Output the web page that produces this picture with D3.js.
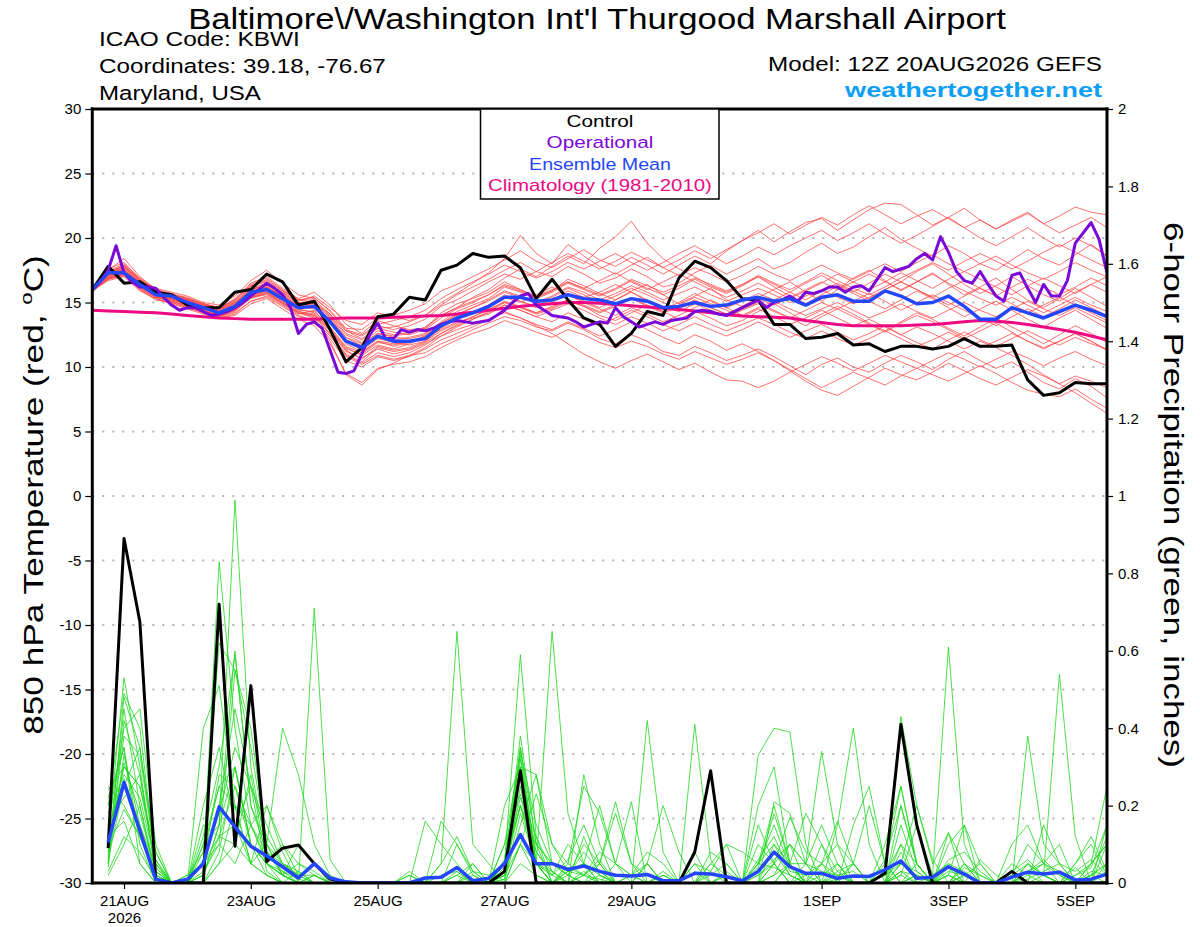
<!DOCTYPE html>
<html>
<head>
<meta charset="utf-8">
<script src="https://cdn.jsdelivr.net/npm/d3@7"></script>
<style>
  body { margin: 0; background: #fff; }
  svg { display: block; font-family: "Liberation Sans", Arial, Helvetica, sans-serif; }
</style>
</head>
<body>
<svg id="chart" width="1200" height="927"></svg>
<script>
// GEFS 12Z 20AUG2026 run, 6-hourly steps from 12Z 20AUG to 12Z 5SEP
const runStart = Date.UTC(2026, 7, 20, 12);
const stepHours = 6;
const tickDates = ['2026-08-21', '2026-08-23', '2026-08-25', '2026-08-27', '2026-08-29', '2026-09-01', '2026-09-03', '2026-09-05'];
const tempTicks = [30, 25, 20, 15, 10, 5, 0, -5, -10, -15, -20, -25, -30];
const precipTicks = [0, 0.2, 0.4, 0.6, 0.8, 1, 1.2, 1.4, 1.6, 1.8, 2];

// 850 hPa temperature, C (65 values, 6-hourly)
const controlTemp = [16.0, 17.8, 16.5, 16.6, 15.8, 15.6, 14.8, 14.6, 14.6, 15.8, 16.0, 17.2, 16.6, 14.8, 15.1, 12.9, 10.4,
  11.5, 13.9, 14.1, 15.4, 15.2, 17.5, 17.9, 18.8, 18.5, 18.6, 17.7, 15.3, 16.8, 15.2, 13.8, 13.3,
  11.6, 12.6, 14.3, 14.0, 16.9, 18.2, 17.7, 16.7, 15.3, 15.2, 13.3, 13.3, 12.2, 12.3, 12.6, 11.7,
  11.8, 11.2, 11.6, 11.6, 11.4, 11.6, 12.2, 11.6, 11.6, 11.7, 9.0, 7.8, 8.0, 8.8, 8.7, 8.7];
const meanTemp = [16.0, 17.3, 17.3, 16.4, 15.6, 15.5, 15.0, 14.6, 14.2, 14.7, 15.8, 16.0, 15.3, 14.6, 14.7, 13.5, 12.0,
  11.5, 12.4, 12.0, 12.0, 12.2, 13.2, 13.8, 14.2, 14.7, 15.4, 15.4, 15.1, 15.2, 15.6, 15.3, 15.2,
  14.9, 15.3, 15.1, 14.6, 14.7, 15.0, 14.7, 14.8, 15.2, 15.4, 15.1, 15.3, 14.8, 15.4, 15.6, 15.1,
  15.1, 15.9, 15.5, 14.9, 15.0, 15.5, 14.7, 13.7, 13.7, 14.6, 14.2, 13.8, 14.3, 14.8, 14.4, 13.9];
const climoTemp = [14.4, 14.35, 14.3, 14.25, 14.2, 14.1, 14.0, 13.9, 13.8, 13.75, 13.7, 13.7, 13.7, 13.7, 13.7, 13.75, 13.8,
  13.8, 13.8, 13.85, 13.9, 13.95, 14.0, 14.1, 14.25, 14.4, 14.55, 14.7, 14.8, 14.9, 15.0, 15.0, 14.95,
  14.85, 14.75, 14.65, 14.55, 14.45, 14.35, 14.2, 14.05, 13.95, 13.9, 13.85, 13.8, 13.6, 13.45, 13.3, 13.2,
  13.2, 13.2, 13.2, 13.25, 13.3, 13.4, 13.5, 13.6, 13.55, 13.45, 13.3, 13.1, 12.9, 12.7, 12.4, 12.1];
// operational run is 3-hourly (129 values)
const operTemp = [16.0, 16.6, 17.5, 19.4, 17.3, 16.6, 16.2, 16.2, 16.1, 15.4, 14.8, 14.4, 14.6, 14.6, 14.3, 14.0,
  14.1, 14.3, 14.6, 15.0, 15.5, 16.0, 16.5, 16.1, 15.6, 14.6, 12.6, 13.3, 13.5, 13.0, 11.3, 9.6,
  9.5, 9.7, 11.0, 12.5, 13.4, 12.2, 12.2, 12.9, 12.7, 12.9, 12.8, 13.0, 13.3, 13.5, 13.6, 13.5,
  13.4, 13.5, 13.6, 14.0, 14.4, 15.0, 15.5, 15.7, 14.8, 14.4, 14.0, 13.9, 13.8, 13.5, 13.1, 13.3,
  13.5, 13.4, 14.6, 13.9, 13.5, 13.1, 13.3, 13.5, 13.3, 13.6, 13.7, 13.8, 14.3, 14.4, 14.3, 14.1,
  14.0, 14.3, 14.6, 14.9, 15.2, 14.6, 15.0, 15.2, 15.5, 15.1, 15.8, 15.7, 15.9, 16.2, 16.2, 15.8,
  16.2, 16.3, 15.9, 16.8, 17.7, 17.4, 17.6, 17.8, 18.4, 18.8, 18.3, 20.1, 18.9, 17.4, 16.7, 16.5,
  17.4, 16.4, 15.5, 15.1, 17.1, 17.3, 16.1, 15.0, 16.4, 15.5, 15.5, 16.7, 19.6, 20.4, 21.2, 19.9, 17.3];
const memberTemp = [
  [16.1,17.0,17.8,16.6,15.9, 15.4,15.2,14.8,14.5, 15.0,16.2,16.8,15.9, 15.2,15.0,14.1,12.8, 12.2,13.0,13.1,13.5, 14.0,14.8,15.6,16.2, 16.8,17.5,18.1,17.4, 17.0,17.8,17.2,16.5, 16.9,17.6,17.0,16.2, 16.5,17.3,17.9,17.2, 17.8,18.4,17.6,18.1, 18.9,19.6,18.8,19.3, 20.1,20.8,19.9,19.2, 18.6,19.4,18.8,18.0, 17.5,18.3,19.1,18.4, 17.9,18.7,19.5,18.6],
  [15.9,16.8,17.1,16.0,15.2, 15.0,14.6,14.2,13.9, 14.2,15.1,15.5,14.8, 14.0,13.6,12.4,10.8, 10.2,10.9,10.6,10.9, 11.1,11.8,12.3,12.9, 13.4,13.9,13.6,13.1, 12.8,13.4,12.9,12.2, 11.8,12.5,12.0,11.2, 10.9,11.6,11.1,10.5, 10.9,11.4,10.8,10.1, 9.4,10.2,10.7,10.0, 9.6,10.3,10.9,10.4, 9.8,10.6,11.2,10.5, 9.9,10.4,9.6,8.8, 8.3,9.1,8.5,7.6],
  [16.2,17.5,18.4,17.0,16.0, 15.6,15.3,14.9,14.6, 15.3,16.5,17.0,16.1, 15.3,15.8,14.8,13.3, 12.6,13.6,13.2,12.9, 13.0,14.2,14.9,15.3, 15.8,16.6,16.0,15.4, 15.9,16.8,16.3,15.7, 15.2,15.9,16.4,15.6, 14.9,15.5,16.1,15.2, 14.7,15.4,16.0,16.6, 15.8,15.1,16.0,16.9, 17.5,16.7,15.9,16.6, 17.3,16.4,15.6,16.2, 16.9,16.0,15.2,14.6, 15.3,16.1,15.4,14.7],
  [16.0,17.2,17.6,16.5,15.8, 15.7,15.1,14.7,14.4, 14.9,16.0,16.3,15.5, 14.8,14.9,13.9,12.5, 11.9,12.8,12.5,12.7, 13.1,14.0,14.6,15.4, 16.0,16.9,17.6,17.0, 17.8,18.6,18.0,19.2, 20.1,21.3,19.6,18.4, 17.6,17.0,16.3,15.8, 16.4,17.0,16.2,15.5, 14.9,15.6,16.3,15.7, 15.1,14.5,15.2,15.9, 15.3,14.6,13.9,14.5, 15.1,14.4,13.7,13.1, 13.8,14.4,13.7,13.0],
  [15.8,16.9,17.4,16.3,15.5, 15.2,14.9,14.4,14.0, 14.5,15.5,15.8,15.1, 14.3,14.0,12.6,11.0, 10.4,11.5,11.2,11.4, 11.9,12.6,13.3,13.9, 14.5,15.0,14.6,14.1, 14.5,15.1,14.7,14.0, 13.6,14.2,14.8,14.3, 13.7,14.3,13.8,13.2, 13.6,14.3,14.9,14.2, 13.5,14.1,14.7,14.1, 13.4,12.8,13.5,14.2, 13.7,13.0,12.4,13.1, 13.8,13.1,12.5,11.8, 12.5,13.2,12.6,11.9],
  [16.1,17.4,18.0,16.9,16.1, 15.8,15.5,15.0,14.8, 15.5,16.7,17.5,16.5, 15.6,15.3,14.4,13.0, 12.9,13.8,14.0,14.4, 14.9,15.9,16.4,17.0, 17.6,18.3,19.0,18.2, 17.7,18.4,19.1,18.3, 17.8,18.5,17.9,17.2, 17.9,18.6,18.0,19.0, 19.8,20.6,19.7,20.5, 21.2,21.5,20.6,21.4, 22.2,22.7,22.6,21.8, 21.0,21.6,22.3,21.4, 20.7,21.4,22.0,21.1, 21.7,22.4,22.0,21.8],
  [15.9,16.7,17.0,15.9,15.3, 14.9,14.5,14.1,13.8, 14.0,14.9,15.3,14.5, 13.7,13.2,11.8,9.5, 8.8,9.9,10.2,10.4, 10.8,11.5,12.1,12.6, 13.0,13.6,13.2,12.7, 12.3,12.9,12.5,11.9, 11.5,12.0,11.6,11.0, 10.6,11.2,10.7,10.2, 10.6,11.1,10.5,9.8, 9.1,8.4,9.0,9.6, 9.1,8.6,9.3,9.9, 9.4,8.9,9.5,10.1, 9.5,8.8,8.2,7.9, 7.7,8.3,7.5,6.8],
  [16.0,17.1,17.5,16.6,15.7, 15.5,15.0,14.6,14.3, 14.8,15.8,16.2,15.4, 14.7,14.5,13.4,12.1, 11.3,12.2,11.9,11.7, 12.0,13.0,13.7,14.1, 14.6,15.5,15.1,14.7, 15.2,15.9,15.4,15.8, 16.4,15.8,15.1,14.5, 15.0,15.7,15.1,14.6, 15.1,15.7,15.2,15.8, 16.5,17.1,16.4,15.8, 16.5,17.2,16.6,17.4, 18.0,17.2,16.4,15.7, 16.3,17.0,16.3,15.6, 15.1,15.8,16.4,15.8],
  [16.1,17.2,17.2,16.1,15.4, 15.3,14.8,14.3,13.9, 14.3,15.4,15.6,14.9, 14.1,14.4,13.0,11.5, 10.9,11.7,11.4,11.8, 12.3,12.9,13.5,13.8, 14.1,14.8,14.4,13.9, 13.5,14.2,13.7,13.2, 13.8,14.4,13.9,13.3, 12.8,13.4,12.9,12.4, 12.9,13.5,12.9,12.3, 12.8,13.3,12.7,12.1, 12.6,13.2,12.5,11.9, 11.4,12.1,12.7,12.1, 11.6,12.2,12.8,12.2, 11.7,12.3,11.8,11.4],
  [16.2,17.6,18.1,16.8,16.0, 15.6,15.4,14.9,14.6, 15.1,16.3,16.6,15.8, 15.1,15.5,14.6,13.6, 13.3,14.2,13.9,13.6, 14.0,15.0,15.7,16.5, 17.3,18.4,20.2,18.8, 18.0,19.5,18.6,17.8, 17.2,17.9,18.5,17.7, 17.1,17.7,17.2,16.6, 17.1,17.8,17.2,16.7, 17.3,17.9,17.3,16.8, 17.4,18.0,17.4,18.1, 18.7,18.0,17.4,18.0, 18.6,17.9,17.3,16.8, 17.4,18.1,17.5,17.0],
  [15.9,16.9,17.3,16.2,15.5, 15.1,14.8,14.3,14.1, 14.5,15.5,15.9,15.0, 14.2,13.8,12.0,9.4, 8.6,9.8,10.3,10.9, 11.5,12.4,13.1,13.7, 14.3,15.0,14.6,14.2, 14.7,15.2,14.8,14.3, 14.8,15.3,14.7,14.2, 14.6,15.2,14.6,14.1, 14.5,15.0,14.4,13.8, 13.2,13.9,14.5,13.9, 13.3,12.7,13.4,14.0, 13.5,12.9,12.2,12.8, 13.4,12.7,12.0,11.4, 12.0,12.6,12.0,11.3],
  [16.0,17.3,17.7,16.7,15.9, 15.6,15.2,14.8,14.4, 15.0,16.0,16.4,15.6, 14.9,14.8,13.6,12.0, 11.7,12.6,12.3,12.2, 12.5,13.5,14.3,14.8, 15.3,16.2,15.8,15.3, 15.8,16.5,16.0,15.5, 16.0,16.7,16.1,15.6, 16.1,16.8,16.2,15.7, 16.3,17.0,16.4,15.8, 15.2,15.9,16.5,15.9, 15.3,16.0,16.6,16.0, 15.4,14.8,15.5,16.1, 15.5,14.9,14.2,14.8, 15.4,14.8,14.2,13.6],
  [16.0,16.9,17.1,16.0,15.3, 15.0,14.6,14.2,13.8, 14.1,15.1,15.4,14.7, 13.9,13.6,12.2,10.5, 10.0,10.8,10.5,10.8, 11.4,12.1,12.6,13.1, 13.7,14.3,13.8,13.3, 12.9,13.5,13.0,12.4, 12.9,13.5,12.9,12.3, 11.8,12.5,12.0,11.3, 11.8,11.2,10.5,9.7, 8.9,8.2,7.8,8.5, 9.2,9.9,9.4,9.0, 9.6,10.3,9.7,9.1, 8.6,9.2,9.8,9.3, 8.7,9.3,8.9,8.4],
  [16.1,17.3,17.9,16.8,15.9, 15.5,15.2,14.8,14.5, 15.2,16.4,16.9,16.0, 15.2,15.4,14.3,12.9, 12.5,13.3,13.6,13.9, 14.4,15.3,16.0,16.6, 17.2,17.9,17.4,16.9, 17.4,18.1,17.6,18.2, 18.8,18.1,17.5,18.1, 18.8,19.4,18.7,18.0, 18.6,19.3,18.7,19.4, 20.0,20.6,19.8,20.4, 21.1,20.3,19.6,20.2, 20.9,21.6,20.8,20.0, 19.4,20.1,20.8,20.0, 19.3,20.0,19.4,18.6],
  [15.9,16.8,17.3,16.3,15.6, 15.3,14.9,14.5,14.2, 14.6,15.6,16.0,15.2, 14.5,14.2,12.9,11.4, 11.0,11.9,11.7,12.0, 12.4,13.3,13.9,14.3, 14.8,15.6,15.1,14.6, 15.0,15.6,15.1,14.6, 15.2,15.8,15.2,14.7, 14.3,14.9,14.4,13.9, 14.4,14.9,14.3,13.8, 14.4,15.0,14.5,15.1, 15.7,15.1,14.4,15.0, 15.6,15.0,14.4,13.8, 13.2,13.9,14.5,13.9, 14.5,15.2,14.6,14.0],
  [16.0,17.0,17.4,16.4,15.6, 15.2,14.9,14.4,14.0, 14.4,15.3,15.7,14.9, 14.2,14.0,12.8,11.2, 10.7,11.4,11.0,11.3, 11.8,12.4,12.9,13.3, 13.7,14.2,13.8,13.2, 12.6,11.8,11.0,10.4, 9.9,10.5,11.0,10.4, 9.8,10.3,9.6,9.0, 8.9,8.4,8.9,9.6, 10.2,10.8,10.3,9.7, 10.3,10.9,10.4,9.9, 10.5,11.1,10.6,10.0, 10.6,11.2,10.7,10.1, 10.7,11.2,10.6,10.1],
  [16.1,17.2,17.9,16.7,15.8, 15.6,15.3,14.9,14.5, 15.0,16.1,16.5,15.7, 15.0,15.0,14.0,12.6, 12.1,13.0,12.7,12.5, 12.9,13.8,14.5,15.0, 15.6,16.4,16.0,15.5, 16.0,16.6,16.1,16.7, 17.3,16.6,16.0,16.6, 17.2,16.6,16.0,15.4, 15.9,16.5,15.9,15.3, 15.9,16.5,17.2,16.6, 16.0,16.6,17.3,16.7, 16.1,16.8,17.4,16.8, 16.2,15.6,16.3,16.9, 16.3,15.7,16.4,17.0],
  [15.9,16.8,17.2,16.2,15.4, 15.1,14.7,14.3,14.0, 14.4,15.4,15.7,15.0, 14.3,14.1,12.9,11.3, 10.6,11.6,11.3,11.5, 12.0,12.8,13.4,13.9, 14.4,15.1,14.7,14.2, 14.6,15.2,14.7,14.2, 14.7,15.3,14.8,14.3, 14.8,15.4,14.9,14.4, 13.9,14.5,13.9,13.3, 13.8,14.4,13.8,13.2, 13.7,13.1,12.5,13.1, 12.6,12.0,11.4,12.0, 11.5,10.9,10.2,9.4, 8.7,8.0,7.2,6.4],
  [16.0,17.1,17.6,16.5,15.7, 15.4,15.1,14.6,14.2, 14.7,15.8,16.2,15.4, 14.6,14.7,13.7,12.3, 11.6,12.4,12.1,12.3, 12.6,13.4,14.0,14.6, 15.2,15.9,15.5,15.0, 15.5,16.2,15.8,15.2, 15.7,16.3,15.8,15.2, 15.7,16.2,15.6,15.1, 15.6,16.1,15.6,15.0, 15.5,16.0,15.4,14.9, 15.4,16.0,16.6,16.0, 15.4,16.1,16.7,16.1, 15.5,16.2,16.8,16.2, 15.6,16.2,16.9,16.3],
  [16.2,17.4,17.8,16.8,16.0, 15.7,15.3,14.9,14.6, 15.2,16.3,16.7,15.9, 15.2,15.2,14.1,12.8, 12.4,13.2,12.9,13.2, 13.7,14.7,15.2,15.9, 16.6,17.2,16.8,17.4, 18.1,18.8,18.2,17.6, 18.2,18.9,18.3,17.7, 18.3,19.0,18.4,19.1, 19.8,20.4,21.1,20.3, 21.0,21.6,21.0,21.8, 22.5,21.8,21.1,21.7, 22.2,21.5,20.8,21.4, 20.7,21.3,21.9,21.1, 20.4,21.0,21.6,20.8],
  [15.9,16.9,17.2,16.1,15.4, 15.1,14.7,14.3,13.9, 14.4,15.4,15.8,15.0, 14.2,13.9,12.5,10.9, 10.3,11.1,10.8,11.1, 11.7,12.6,13.2,13.7, 14.2,14.8,14.4,13.9, 14.4,14.9,14.4,13.8, 13.3,13.9,13.4,12.8, 13.3,13.9,13.3,12.8, 13.3,13.8,13.3,12.7, 12.2,12.8,12.2,11.7, 12.2,12.8,12.2,11.6, 12.1,12.7,12.1,11.5, 12.0,12.6,12.0,11.5, 12.0,12.6,12.0,11.3],
  [16.1,17.2,17.5,16.5,15.7, 15.4,15.0,14.5,14.2, 14.8,15.9,16.2,15.5, 14.8,14.7,13.5,11.8, 11.2,12.0,11.8,11.9, 12.4,13.4,14.1,14.6, 15.1,15.8,15.4,14.9, 15.4,16.1,15.6,15.0, 15.5,16.1,15.6,15.0, 14.5,15.1,14.6,14.1, 14.7,15.3,14.8,15.4, 16.0,16.6,16.0,16.6, 17.2,16.6,16.0,16.6, 17.2,16.5,15.9,15.3, 14.8,15.4,14.8,14.2, 14.8,15.4,14.8,14.3],
  [16.0,17.0,17.4,16.3,15.6, 15.3,15.0,14.5,14.1, 14.6,15.6,15.9,15.2, 14.4,14.3,13.1,11.6, 11.1,12.0,11.6,11.9, 12.2,13.1,13.8,14.2, 14.7,15.4,15.0,15.6, 16.2,15.6,15.0,14.5, 14.0,14.6,14.1,13.5, 14.0,14.6,15.2,14.6, 14.0,14.6,15.1,14.5, 14.0,14.5,15.0,14.4, 13.8,14.3,14.9,14.3, 13.8,14.4,15.0,14.4, 13.9,14.5,15.1,14.5, 14.0,14.6,14.0,13.4],
  [16.2,17.3,17.7,16.6,15.8, 15.5,15.2,14.7,14.3, 14.9,16.0,16.4,15.7, 15.0,14.9,13.8,12.3, 11.8,12.6,12.4,12.6, 13.0,14.0,14.6,15.1, 15.6,16.3,15.9,15.4, 15.9,16.6,16.1,15.6, 16.1,16.8,16.3,15.8, 16.3,16.9,16.4,15.9, 16.4,17.1,16.5,16.0, 16.6,17.3,16.7,16.1, 15.6,16.2,16.9,17.5, 18.1,17.5,18.2,18.8, 18.2,17.6,18.2,18.9, 19.5,18.9,18.3,17.7]
];

// 6-hour precipitation, inches (64 values, first one ends 18Z 20AUG)
const controlPrecip = [0.09,0.89,0.675,0.01, 0,0,0,0.72, 0.095,0.51,0.055,0.09, 0.098,0.05,0.01,0, 0,0,0,0, 0,0,0,0,
  0,0.03,0.29,0, 0,0,0,0, 0,0,0,0, 0,0.08,0.29,0, 0,0,0,0, 0,0,0,0, 0,0.025,0.41,0.15, 0,0,0,0, 0,0.03,0,0, 0,0,0,0];
const meanPrecip = [0.105,0.26,0.135,0.01, 0,0.01,0.05,0.197, 0.145,0.095,0.07,0.042, 0.013,0.05,0.013,0.003, 0,0,0,0,
  0.013,0.015,0.04,0.006, 0.012,0.05,0.125,0.05, 0.05,0.035,0.044,0.03, 0.02,0.018,0.022,0.006, 0.006,0.025,0.023,0.016,
  0.006,0.03,0.08,0.042, 0.025,0.025,0.012,0.018, 0.017,0.034,0.057,0.012, 0.015,0.042,0.023,0, 0,0.015,0.028,0.023,
  0.028,0.008,0.01,0.023];
const memberPrecip = [
  [.12,.53,.30,.02, 0,0,.05,.83, .40,.15,.05,.02, 0,0,0,0, 0,0,0,0, 0,.05,.12,.03, 0,.02,.35,.10, .05,.02,0,0, 0,0,.05,.20, .08,0,0,.03, 0,0,.02,.05, 0,0,.15,.40, .10,0,0,.02, 0,0,0,.06, .02,0,0,0, 0,0,.02,.05],
  [.08,.45,.20,.01, 0,0,.02,.15, .99,.30,.08,.03, .01,0,0,0, 0,0,0,0, 0,0,.03,0, 0,.05,.20,.08, .03,0,.02,.06, 0,0,0,.02, 0,.41,.06,0, 0,0,0,.05, .18,.10,.03,0, 0,.06,.20,.05, 0,.02,0,0, 0,0,.03,.06, .02,0,0,0],
  [.20,.49,.40,.05, 0,0,.12,.30, .59,.20,.10,.05, .02,.05,0,0, 0,0,0,0, 0,.16,.10,.02, 0,.05,.59,.12, 0,.03,.05,.02, 0,.02,.08,.05, 0,0,0,0, 0,0,.02,.10, .05,0,0,0, 0,.03,.43,.20, .06,0,0,0, 0,0,.03,.02, 0,.05,.10,.02],
  [.15,.40,.45,.10, 0,0,.40,.51, .20,.05,.02,0, 0,.02,0,0, 0,0,0,0, 0,.05,.65,.10, .05,0,.10,.23, .10,.03,.05,.20, .05,.02,0,0, 0,.05,.03,0, 0,0,0,0, .02,.05,.10,.05, .20,.05,0,0, 0,0,.05,.02, 0,0,.38,.10, .05,0,0,.03],
  [.05,.33,.15,.02, 0,0,.03,.10, .55,.40,.10,.02, 0,.71,.06,0, 0,0,0,0, 0,0,0,.02, 0,.03,.20,.05, .65,.18,.05,0, 0,0,0,.03, 0,0,.05,.10, 0,.05,.20,.05, 0,0,0,.05, 0,0,.02,.15, .02,.61,.10,0, 0,0,0,0, 0,.02,.05,.10],
  [.18,.28,.22,.05, 0,0,.10,.25, .30,.10,.05,.03, 0,0,0,0, 0,0,0,0, .16,.10,.05,0, 0,.10,.33,.05, .02,0,.28,.10, 0,0,.42,.08, 0,0,0,.02, 0,.33,.40,.39, .10,0,0,0, 0,0,.05,.03, 0,0,0,0, 0,.03,.06,.02, .54,.12,0,0],
  [.10,.31,.18,.03, 0,.02,.05,.20, .15,.25,.12,.05, .02,0,0,0, 0,0,0,.03, 0,0,.10,.03, .02,.05,.30,.28, .10,.05,.02,0, .05,.21,0,0, 0,0,0,0, 0,0,.21,.18, .05,.34,.10,0, 0,0,0,.05, 0,.02,0,0, 0,.10,.15,.05, 0,0,.05,.25],
  [.22,.35,.10,0, 0,0,.15,.12, .10,.28,.05,.02, 0,0,0,0, 0,0,0,0, 0,0,0,0, 0,.02,.35,.05, 0,.05,.25,.18, .05,.02,0,0, 0,0,0,0, 0,.10,.05,.17, .08,.05,.16,.05, 0,0,.20,.05, 0,.13,.05,0, 0,0,0,.15, .05,0,0,.05],
  [.06,.25,.35,.08, 0,0,0,.05, .20,.05,.10,.40, .28,.10,.02,0, 0,0,0,0, 0,0,0,0, 0,.20,.30,.05, .03,0,0,.05, .18,.05,.02,0, 0,0,.08,.05, 0,0,.10,.05, 0,.05,0,.15, .25,.05,0,0, 0,.10,.15,.05, 0,0,.05,0, 0,.05,.12,.03],
  [.25,.20,.12,.02, 0,0,.20,.35, .15,.10,.05,.02, 0,0,0,0, 0,0,0,0, 0,.02,.03,0, 0,.03,.32,.05, .02,.10,.05,0, 0,0,.05,0, 0,0,.05,.02, 0,.15,.05,0, .05,.15,.05,0, 0,.05,.25,.05, 0,.02,.15,0, 0,.05,.02,0, 0,0,0,.15],
  [.04,.42,.28,.03, 0,.02,.08,.62, .55,.35,.10,.02, .05,.03,0,0, 0,0,0,0, 0,0,0,0, 0,.01,.15,.28, .05,.02,0,0, 0,0,0,0, 0,0,.03,.10, .08,.05,.15,.04, 0,.10,0,0, 0,.02,.05,.20, .05,.13,0,0, 0,0,0,0, 0,0,.03,.02],
  [.10,.30,.25,.05, 0,0,.05,.10, .05,.15,.20,.10, .05,.02,0,0, 0,0,0,0, 0,0,.02,.05, 0,.05,.20,.10, .05,.02,.10,.05, 0,0,0,0, 0,.05,0,0, 0,0,.05,.10, .05,0,0,0, 0,0,.05,.02, 0,.05,.03,0, 0,.02,.10,.05, .02,0,0,0],
  [.14,.27,.15,.04, 0,0,0,.08, .30,.10,.05,.02, .10,.05,0,0, 0,0,0,.02, 0,0,0,0, 0,.04,.38,.10, 0,.03,.05,.03, 0,0,0,0, 0,0,0,0, 0,.05,.10,.02, 0,0,.03,.05, 0,.10,.25,.05, 0,0,.05,0, 0,0,.03,.05, .10,0,0,0],
  [.07,.38,.33,.06, 0,0,.05,.20, .45,.25,.03,0, 0,0,0,0, 0,0,0,0, 0,0,0,0, 0,0,.10,.02, 0,0,0,.02, 0,0,0,0, 0,0,0,0, 0,0,0,.05, 0,.02,.05,0, 0,0,0,0, .02,.05,0,0, 0,0,0,0, 0,0,.05,.10],
  [.03,.12,.08,.01, 0,0,.02,.15, .60,.20,.08,.05, .03,0,0,0, 0,0,0,0, 0,0,0,0, 0,0,.25,.05, 0,0,.02,.01, 0,.02,.05,0, 0,0,0,0, 0,.05,.04,.02, 0,0,.01,.05, 0,0,.10,.05, 0,.03,.02,0, 0,0,0,.02, 0,0,.02,.05],
  [.16,.22,.28,.04, 0,0,.08,.25, .20,.15,.06,.10, .02,0,0,0, 0,0,0,0, 0,0,0,.03, 0,.02,.30,.08, .02,.06,.15,.05, 0,0,0,.02, 0,0,.02,.05, 0,.20,.30,.05, 0,0,0,0, 0,0,.03,0, 0,0,.04,.02, 0,0,0,0, 0,.04,0,0],
  [.09,.19,.12,.02, 0,.01,.05,.12, .25,.15,.08,.02, 0,0,0,0, 0,0,0,0, 0,0,0,0, 0,.10,.23,.05, 0,.04,.02,.05, .21,.05,0,0, 0,0,0,0, 0,.04,.18,.05, .05,.03,.02,0, 0,0,0,.02, 0,0,.02,0, 0,.02,.05,.02, 0,0,0,.10],
  [.12,.16,.05,0, 0,0,0,.05, .10,.05,.02,0, 0,0,0,0, 0,0,0,0, 0,0,0,0, 0,.02,.10,.05, 0,0,0,0, 0,0,0,0, 0,0,0,0, 0,0,.05,0, 0,0,0,0, 0,0,.03,.02, 0,0,0,0, 0,0,.02,.05, .03,0,0,0],
  [.05,.48,.35,.06, 0,0,.06,.18, .35,.25,.15,.05, .02,.02,0,0, 0,0,0,0, 0,0,0,.05, 0,.06,.34,.15, .05,.03,.02,.08, .05,0,0,0, 0,.03,0,.02, 0,.02,.06,.10, 0,.05,.02,0, 0,0,.15,.03, 0,.06,.08,.03, 0,0,.01,.03, .05,.03,.06,.02],
  [.20,.35,.05,0, 0,0,.05,.28, .25,.10,.05,0, .03,0,0,0, 0,0,0,0, 0,0,.02,0, 0,.01,.18,.05, 0,.02,.08,.03, 0,0,.05,0, 0,0,0,0, 0,.06,.12,.03, .02,0,.02,.03, 0,0,.08,0, 0,0,.02,.05, 0,0,0,0, 0,.02,.04,.15],
  [.02,.10,.20,.03, 0,0,.10,.15, .30,.10,.02,0, 0,0,0,0, 0,0,0,.02, 0,0,0,0, 0,0,.05,.02, 0,0,.03,0, 0,0,0,0, 0,0,0,0, 0,.02,.05,0, 0,0,0,0, 0,0,.02,0, 0,0,0,0, 0,0,.05,.02, 0,0,.02,0],
  [.24,.30,.25,.08, 0,0,.02,.12, .15,.05,.20,.08, 0,.02,0,0, 0,0,0,0, 0,0,0,0, 0,.05,.22,.12, .03,0,.12,.02, 0,0,0,0, 0,.08,0,0, 0,.03,.08,.02, 0,0,.05,0, 0,.02,.10,0, 0,.04,0,0, 0,0,0,0, 0,0,.02,.12]
];

const opts = {
  width: 1200,
  height: 927,
  left: 92.3,
  right: 1107,
  top: 109,
  bottom: 883,
};

const svg = d3.select('#chart');
const hour = 3600 * 1000;
const runEnd = runStart + 64 * stepHours * hour;
const font = '"Liberation Sans", Arial, sans-serif';

const x = d3.scaleUtc().domain([runStart, runEnd]).range([opts.left, opts.right]);
const yT = d3.scaleLinear().domain([-30, 30]).range([opts.bottom, opts.top]);
const yP = d3.scaleLinear().domain([0, 2]).range([opts.bottom, opts.top]);

const tempLine = d3.line().x(d => x(d.t)).y(d => yT(d.v));
const precipLine = d3.line().x(d => x(d.t)).y(d => yP(d.v));

// value arrays -> points; temps start at hour 0, precip at hour 6
const tempPts = (arr, hrs = stepHours) => arr.map((v, i) => ({ t: runStart + i * hrs * hour, v }));
const precipPts = arr => arr.map((v, i) => ({ t: runStart + (i + 1) * stepHours * hour, v }));

// text stretched horizontally to the width the original plot uses (its font runs wider)
function label(parent, { x, y, text, width, anchor = 'start', size = 20, fill = '#000', weight = 'normal', rotate = 0 }) {
  const g = parent.append('g').attr('transform', `translate(${x},${y}) rotate(${rotate})`);
  const t = g.append('text')
    .attr('text-anchor', anchor)
    .attr('font-family', font)
    .attr('font-size', size)
    .attr('font-weight', weight)
    .attr('fill', fill);
  if (Array.isArray(text)) text.forEach(fn => fn(t));
  else t.text(text);
  if (width) {
    const w = t.node().getComputedTextLength();
    t.attr('transform', `scale(${width / w},1)`);
  }
  return g;
}

svg.append('rect').attr('width', opts.width).attr('height', opts.height).attr('fill', '#fff');

svg.append('clipPath').attr('id', 'plotclip')
  .append('rect')
  .attr('x', opts.left).attr('y', opts.top)
  .attr('width', opts.right - opts.left).attr('height', opts.bottom - opts.top);

// dotted grid at the temperature ticks
svg.append('g').selectAll('line').data(tempTicks.filter(t => t > -30 && t < 30)).enter()
  .append('line')
  .attr('x1', opts.left).attr('x2', opts.right)
  .attr('y1', d => yT(d)).attr('y2', d => yT(d))
  .attr('stroke', '#b4b4b4')
  .attr('stroke-width', 2)
  .attr('stroke-dasharray', '2,8');

const plot = svg.append('g').attr('clip-path', 'url(#plotclip)');

plot.append('g').selectAll('path').data(memberTemp).enter()
  .append('path')
  .attr('d', d => tempLine(tempPts(d)))
  .attr('fill', 'none')
  .attr('stroke', '#ff4a4a')
  .attr('stroke-width', 0.8);

plot.append('g').selectAll('path').data(memberPrecip).enter()
  .append('path')
  .attr('d', d => precipLine(precipPts(d)))
  .attr('fill', 'none')
  .attr('stroke', '#1fd81f')
  .attr('stroke-width', 0.8);

function thick(d, color, w) {
  plot.append('path')
    .attr('d', d)
    .attr('fill', 'none')
    .attr('stroke', color)
    .attr('stroke-width', w)
    .attr('stroke-linejoin', 'round');
}

thick(tempLine(tempPts(climoTemp)), '#ee0a82', 3);
thick(tempLine(tempPts(controlTemp)), '#000', 3);
thick(precipLine(precipPts(controlPrecip)), '#000', 3);
thick(tempLine(tempPts(operTemp, 3)), '#7a08d8', 3);
thick(tempLine(tempPts(meanTemp)), '#2546ff', 3.5);
thick(precipLine(precipPts(meanPrecip)), '#2546ff', 3.5);

// axes
function styleAxis(g) {
  g.select('.domain').remove();
  g.selectAll('line').attr('stroke', '#000').attr('stroke-width', 1.2);
  g.selectAll('text').attr('font-size', 15).attr('font-family', font).attr('fill', '#000');
}

svg.append('g')
  .attr('transform', `translate(${opts.left},0)`)
  .call(d3.axisLeft(yT).tickValues(tempTicks).tickSize(7).tickPadding(4).tickFormat(d => String(d)))
  .call(styleAxis);

svg.append('g')
  .attr('transform', `translate(${opts.right},0)`)
  .call(d3.axisRight(yP).tickValues(precipTicks).tickSize(6).tickPadding(5).tickFormat(d => String(d)))
  .call(styleAxis);

const parseDay = d3.utcParse('%Y-%m-%d');
const fmtDay = d3.utcFormat('%-d%b');
const xAxis = svg.append('g')
  .attr('transform', `translate(0,${opts.bottom})`)
  .call(d3.axisBottom(x).tickValues(tickDates.map(parseDay)).tickSize(6).tickPadding(6)
    .tickFormat(d => fmtDay(d).toUpperCase()))
  .call(styleAxis);
xAxis.select('.tick text')
  .append('tspan').attr('x', 0).attr('dy', '1.15em').text('2026');

// frame
const frame = svg.append('g').attr('stroke', '#000').attr('stroke-width', 3).attr('stroke-linecap', 'square');
frame.append('line').attr('x1', opts.left).attr('x2', opts.right).attr('y1', opts.top).attr('y2', opts.top);
frame.append('line').attr('x1', opts.left).attr('x2', opts.right).attr('y1', opts.bottom).attr('y2', opts.bottom);
frame.append('line').attr('x1', opts.left).attr('x2', opts.left).attr('y1', opts.top).attr('y2', opts.bottom);
frame.append('line').attr('x1', opts.right).attr('x2', opts.right).attr('y1', opts.top).attr('y2', opts.bottom);

// legend
const legend = svg.append('g');
legend.append('rect')
  .attr('x', 480.5).attr('y', opts.top).attr('width', 238.5).attr('height', 90)
  .attr('fill', '#fff').attr('stroke', '#000').attr('stroke-width', 1.5);
const legendItems = [['Control', '#000', 67], ['Operational', '#7a08d8', 107], ['Ensemble Mean', '#2546ff', 142], ['Climatology (1981-2010)', '#ee0a82', 224]];
legendItems.forEach(([text, fill, width], i) => {
  label(legend, { x: 600, y: 127 + i * 21.3, text, fill, width, anchor: 'middle', size: 17 });
});

// titles
label(svg, { x: 597, y: 29, text: 'Baltimore\\/Washington Int\'l Thurgood Marshall Airport', anchor: 'middle', size: 29, width: 818 });
label(svg, { x: 99, y: 46, text: 'ICAO Code: KBWI', size: 19.5, width: 201 });
label(svg, { x: 99, y: 73, text: 'Coordinates: 39.18, -76.67', size: 19.5, width: 287 });
label(svg, { x: 99, y: 100, text: 'Maryland, USA', size: 19.5, width: 162 });
label(svg, { x: 1102, y: 71, text: 'Model: 12Z 20AUG2026 GEFS', anchor: 'end', size: 19.5, width: 334 });
label(svg, { x: 1102, y: 97, text: 'weathertogether.net', anchor: 'end', size: 21, weight: 'bold', fill: '#0d9ef5', width: 257 });

label(svg, {
  x: 43, y: 495, rotate: -90, anchor: 'middle', size: 27, width: 480,
  text: [
    t => t.append('tspan').text('850 hPa Temperature (red, '),
    t => t.append('tspan').attr('font-size', 17).attr('dy', -11).text('o'),
    t => t.append('tspan').attr('dy', 11).text('C)'),
  ],
});
label(svg, { x: 1164, y: 495, rotate: 90, anchor: 'middle', size: 27, width: 546, text: '6-hour Precipitation (green, inches)' });
</script>
</body>
</html>
